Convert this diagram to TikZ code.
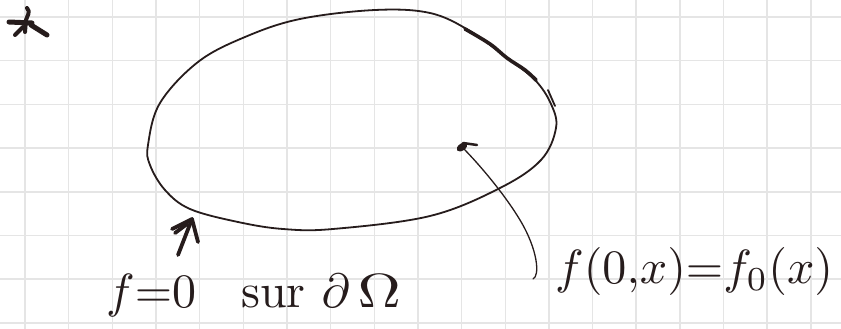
\documentclass[tikz,border=0pt]{standalone}
\definecolor{pen}{RGB}{38,28,28}
\definecolor{gridc}{RGB}{229,229,229}
\tikzset{
  gridline/.style={gridc, line width=1.5pt},
  penline/.style={pen, line width=1.8pt, line cap=round, line join=round},
  heavy/.style={pen, line width=3.8pt, line cap=round, line join=round},
  hand/.style={pen, inner sep=0pt},
}
\newcommand{\bigtxt}[1]{\scalebox{4.8}{#1}}
\begin{document}
\begin{tikzpicture}[x=1pt,y=-1pt]
\useasboundingbox (0,0) rectangle (841,329);
\fill[white] (0,0) rectangle (841,329);
% squared paper
\foreach \k in {0,...,18} \draw[gridline] ({25+43.66*\k},0) -- ({25+43.66*\k},329);
\foreach \k in {0,...,7} \draw[gridline] (0,{17+43.7*\k}) -- (841,{17+43.7*\k});
% asterisk
\draw[heavy, line width=5pt] (9,22) -- (32,23);
\draw[heavy, line width=5pt] (31,25) -- (47,35);
\draw[heavy, line width=4pt] (27,8) .. controls (31,12) and (27,16) .. (26,20) -- (25,32);
\draw[heavy, line width=4pt] (23,27) -- (15,35);
% domain
\draw[penline] plot[smooth cycle, tension=0.6] coordinates {(148,145) (160,103) (198,62) (245,37) (300,19) (375,10) (430,13) (470,31) (507,58) (535,80) (551,104) (556,128) (541,160) (500,188) (430,216) (333,229) (283,229) (238,222) (190,209) (165,190) (150,165)};
\draw[pen, line width=3.6pt, line cap=round] plot[smooth, tension=0.6] coordinates {(465,29) (490,44) (507,58) (525,70) (536,80)};
\draw[penline] (548,90) -- (555,106);
% labels
\node[hand, anchor=base west] (bc1) at (106,307) {\bigtxt{$f{=}0$}};
\node[hand, anchor=base west] (bc2) at (241,307) {\bigtxt{sur $\partial\,$\scalebox{1.25}[1]{$\Omega$}}};
\node[hand, anchor=base west] (ic) at (555,283) {\bigtxt{$f(0{,}x){=}f_0(x)$}};
% arrow to the boundary
\coordinate (bs) at (178,255);
\coordinate (bt) at (192,219);
\draw[heavy] (bs) -- (bt);
\draw[heavy] (172,229) -- (bt) -- (198,242);
\draw[heavy] (175,233) -- (187,224);
% arrow to the inside
\coordinate (is) at (533,279);
\coordinate (it) at (462,147);
\draw[pen, line width=1.3pt, line cap=round] (is) .. controls (540,276) and (538,250) .. (520,220) .. controls (505,195) and (480,165) .. (it);
\fill[pen, rotate around={35:(it)}] (it) ellipse (6pt and 3.5pt);
\draw[pen, line width=2.5pt, line cap=round] (463,143) -- (477,145);
\end{tikzpicture}
\end{document}
